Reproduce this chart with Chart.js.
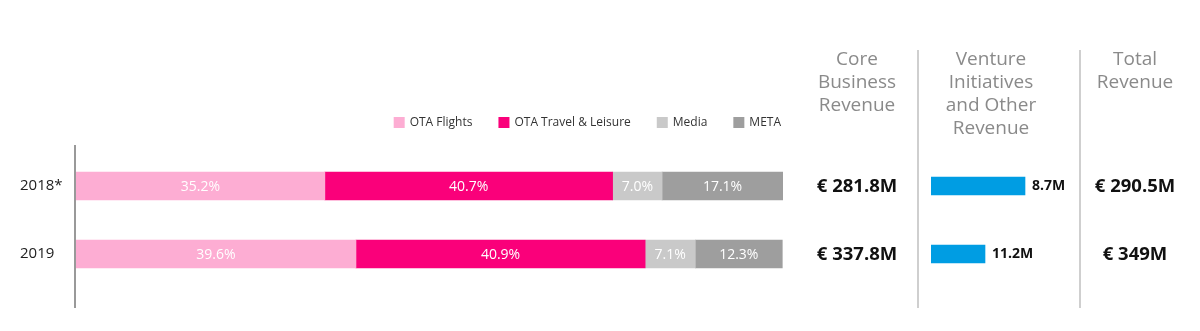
<!DOCTYPE html>
<html>
<head>
<meta charset="utf-8">
<script src="https://cdn.jsdelivr.net/npm/chart.js@4.4.1/dist/chart.umd.min.js"></script>
<style>
    html, body { margin: 0; padding: 0; background: #fff; }
    #wrap { position: relative; width: 1200px; height: 331px; }
    #mainChart { position: absolute; left: 0; top: 0; }
    #ventureChart { position: absolute; left: 921px; top: 0; }
</style>
</head>
<body>
<div id="wrap">
    <canvas id="mainChart" width="1200" height="331"></canvas>
    <canvas id="ventureChart" width="150" height="331"></canvas>
</div>
<script>
// Data
const years = ['2018*', '2019'];
const otaFlights = [35.2, 39.6];
const otaTravel = [40.7, 40.9];
const media = [7.0, 7.1];
const meta = [17.1, 12.3];

const coreRevenue = ['€ 281.8M', '€ 337.8M'];
const ventureLabels = ['8.7M', '11.2M'];
const ventureBarLength = [0.94, 0.54]; // bar lengths as drawn (relative)
const totalRevenue = ['€ 290.5M', '€ 349M'];

const FONT = '"Open Sans", "Noto Sans", sans-serif';

// Segment labels (percentages) inside the stacked bars
const segmentLabels = {
    id: 'segmentLabels',
    afterDatasetsDraw(chart) {
        const ctx = chart.ctx;
        ctx.save();
        ctx.font = '14px ' + FONT;
        ctx.fillStyle = '#fff';
        ctx.textAlign = 'center';
        ctx.textBaseline = 'middle';
        chart.data.datasets.forEach((ds, i) => {
            chart.getDatasetMeta(i).data.forEach((bar, j) => {
                ctx.fillText(ds.data[j].toFixed(1) + '%', (bar.x + bar.base) / 2, bar.y + 1);
            });
        });
        ctx.restore();
    }
};

// Legend, axis line and the right-hand text columns
const decorations = {
    id: 'decorations',
    afterDraw(chart) {
        const ctx = chart.ctx;
        const area = chart.chartArea;
        const yScale = chart.scales.y;
        ctx.save();

        // left axis line
        ctx.strokeStyle = '#999';
        ctx.lineWidth = 2;
        ctx.beginPath();
        ctx.moveTo(area.left - 1, 145);
        ctx.lineTo(area.left - 1, 308);
        ctx.stroke();

        // legend, right-aligned to the bars
        ctx.font = '12px ' + FONT;
        ctx.textBaseline = 'middle';
        ctx.textAlign = 'left';
        let x = area.right - 2;
        const items = chart.data.datasets.slice().reverse();
        items.forEach(ds => {
            const w = ctx.measureText(ds.label).width;
            x -= w;
            ctx.fillStyle = '#333';
            ctx.fillText(ds.label, x, 123);
            x -= 16;
            ctx.fillStyle = ds.backgroundColor;
            ctx.fillRect(x, 117, 11, 11);
            x -= 26;
        });

        // separators
        ctx.strokeStyle = '#cfcfcf';
        ctx.lineWidth = 2;
        [918, 1080].forEach(sx => {
            ctx.beginPath();
            ctx.moveTo(sx, 50);
            ctx.lineTo(sx, 308);
            ctx.stroke();
        });

        // column headers
        ctx.font = '19px ' + FONT;
        ctx.fillStyle = '#8a8a8a';
        ctx.textAlign = 'center';
        const headers = [
            { cx: 857, lines: ['Core', 'Business', 'Revenue'] },
            { cx: 991, lines: ['Venture', 'Initiatives', 'and Other', 'Revenue'] },
            { cx: 1135, lines: ['Total', 'Revenue'] }
        ];
        headers.forEach(h => {
            h.lines.forEach((t, k) => ctx.fillText(t, h.cx, 60 + k * 23));
        });

        // core / total values
        ctx.font = 'bold 18.5px ' + FONT;
        ctx.fillStyle = '#111';
        years.forEach((yr, j) => {
            const y = yScale.getPixelForValue(j) + 1;
            ctx.fillText(coreRevenue[j], 857, y);
            ctx.fillText(totalRevenue[j], 1135, y);
        });
        ctx.restore();
    }
};

new Chart(document.getElementById('mainChart'), {
    type: 'bar',
    data: {
        labels: years,
        datasets: [
            { label: 'OTA Flights', data: otaFlights, backgroundColor: '#FDADD3' },
            { label: 'OTA Travel & Leisure', data: otaTravel, backgroundColor: '#FA007A' },
            { label: 'Media', data: media, backgroundColor: '#C9C9C9' },
            { label: 'META', data: meta, backgroundColor: '#9E9E9E' }
        ]
    },
    options: {
        responsive: false,
        animation: false,
        devicePixelRatio: 1,
        indexAxis: 'y',
        datasets: { bar: { barThickness: 28 } },
        layout: { padding: { top: 152, bottom: 43, left: 20, right: 417 } },
        scales: {
            x: { stacked: true, min: 0, max: 100, display: false },
            y: {
                stacked: true,
                grid: { display: false },
                border: { display: false },
                ticks: { crossAlign: 'far', padding: 0, color: '#222', font: { size: 15, family: FONT } },
                afterFit(scale) { scale.width = 56; }
            }
        },
        plugins: { legend: { display: false }, tooltip: { enabled: false } }
    },
    plugins: [segmentLabels, decorations]
});

// Venture bars with their value labels
const ventureValueLabels = {
    id: 'ventureValueLabels',
    afterDraw(chart) {
        const ctx = chart.ctx;
        ctx.save();
        ctx.font = 'bold 14px ' + FONT;
        ctx.fillStyle = '#111';
        ctx.textAlign = 'left';
        ctx.textBaseline = 'middle';
        chart.getDatasetMeta(0).data.forEach((bar, j) => {
            ctx.fillText(ventureLabels[j], bar.x + 7, bar.y);
        });
        ctx.restore();
    }
};

new Chart(document.getElementById('ventureChart'), {
    type: 'bar',
    data: {
        labels: years,
        datasets: [{ data: ventureBarLength, backgroundColor: '#009DE3', barThickness: 18 }]
    },
    options: {
        responsive: false,
        animation: false,
        devicePixelRatio: 1,
        indexAxis: 'y',
        layout: { padding: { top: 152, bottom: 43, left: 10, right: 40 } },
        scales: {
            x: { min: 0, max: 1, display: false },
            y: { display: false }
        },
        plugins: { legend: { display: false }, tooltip: { enabled: false } }
    },
    plugins: [ventureValueLabels]
});
</script>
</body>
</html>
